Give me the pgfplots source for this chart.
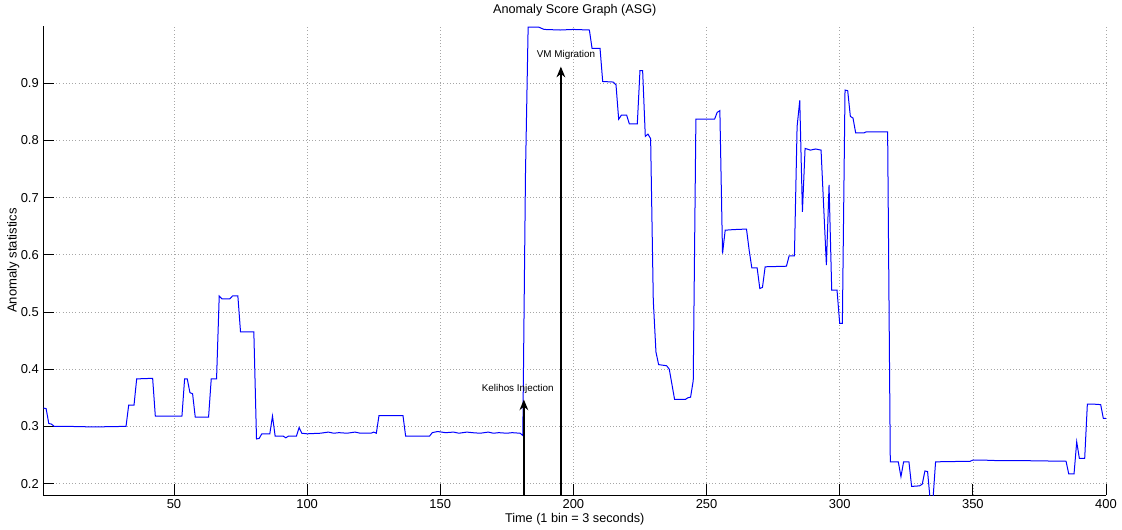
\documentclass[border=0pt]{standalone}
\usepackage{pgfplots}
\pgfplotsset{compat=1.18}
\usepackage{fontspec}
\setmainfont{Liberation Sans}
\usetikzlibrary{arrows.meta}
\begin{document}
\begin{tikzpicture}
\begin{axis}[
  scale only axis,
  width=796.9pt, height=351.75pt,
  xmin=1, xmax=400, ymin=0.18, ymax=1.0,
  axis x line*=bottom, axis y line*=left,
  axis line style={-, black, line width=0.6pt},
  tick align=inside,
  major tick length=8pt,
  tick style={black, line width=0.6pt},
  xtick={50,100,...,400},
  ytick={0.2,0.3,...,0.91},
  yticklabels={0.2,0.3,0.4,0.5,0.6,0.7,0.8,0.9},
  grid=major,
  major grid style={dotted, gray!70, line width=0.5pt},
  /pgf/number format/assume math mode=true,
  ticklabel style={font=\fontsize{9.7pt}{11pt}\selectfont},
  xlabel={Time (1 bin = 3 seconds)},
  ylabel={Anomaly statistics},
  xlabel style={at={(axis description cs:0.5,-0.0522)}, anchor=center, font=\fontsize{9.5pt}{11pt}\selectfont},
  ylabel style={at={(axis description cs:-0.0284,0.5)}, anchor=center, rotate=0, font=\fontsize{9.8pt}{11pt}\selectfont},
  clip=true,
]
\addplot[color={rgb,255:red,0;green,0;blue,255}, line width=0.75pt] coordinates {
(1,0.332) (2,0.331) (3,0.305) (4,0.304) (5,0.300) (10,0.300) (20,0.299) (32,0.300)
(33,0.337) (35,0.337) (36,0.383) (42,0.384) (43,0.318) (53,0.318)
(54,0.383) (55,0.383) (56,0.359) (57,0.357) (58,0.316) (63,0.316)
(64,0.383) (66,0.383) (67,0.528) (68,0.523) (71,0.523) (72,0.528) (74,0.528)
(75,0.465) (80,0.465) (81,0.278) (82,0.279) (83,0.287) (86,0.287) (87,0.318)
(88,0.283) (91,0.283) (92,0.280) (93,0.283) (96,0.283) (97,0.298) (98,0.288)
(100,0.287) (105,0.288) (108,0.290) (110,0.288) (112,0.289) (115,0.288) (118,0.290)
(120,0.288) (124,0.288) (125,0.290) (126,0.288)
(127,0.319) (136,0.319) (137,0.283) (146,0.283)
(147,0.289) (149,0.291) (152,0.289) (155,0.290) (157,0.288) (160,0.290) (162,0.289)
(165,0.288) (168,0.290) (170,0.288) (172,0.289) (175,0.288) (177,0.289) (180,0.288)
(181,0.284) (182,0.74) (183,0.998) (187,0.998) (189,0.994) (195,0.993) (200,0.994)
(206,0.993) (207,0.961) (210,0.961) (211,0.903) (215,0.902) (216,0.897) (217,0.837)
(218,0.844) (220,0.844) (221,0.829) (224,0.829) (225,0.922) (226,0.922) (227,0.807)
(228,0.811) (229,0.803) (230,0.52) (231,0.43) (232,0.408) (235,0.406) (236,0.400)
(238,0.347) (242,0.347) (243,0.350) (244,0.351) (245,0.38) (246,0.837) (253,0.837)
(254,0.849) (255,0.852) (256,0.602) (257,0.643) (260,0.644) (265,0.645) (266,0.608)
(267,0.577) (269,0.577) (270,0.541) (271,0.543) (272,0.579) (280,0.580) (281,0.598)
(283,0.598) (284,0.824) (285,0.870) (286,0.675) (287,0.786) (289,0.783) (291,0.785)
(293,0.783) (295,0.582) (296,0.722) (297,0.538) (299,0.538) (300,0.480) (301,0.480)
(302,0.888) (303,0.887) (304,0.842) (305,0.839) (306,0.813) (309,0.813) (310,0.815)
(318,0.815) (319,0.238) (322,0.238) (323,0.212) (324,0.238) (326,0.238) (327,0.195)
(330,0.196) (331,0.199) (332,0.222) (333,0.221) (334,0.17) (335,0.17) (336,0.238)
(349,0.239) (350,0.241) (354,0.241) (360,0.240) (370,0.240) (385,0.239) (386,0.217)
(388,0.217) (389,0.273) (390,0.244) (392,0.244) (393,0.339) (395,0.339) (398,0.338)
(399,0.314) (400,0.314)
};
\draw[-{Stealth[length=8pt,width=6.5pt]}, line width=1.5pt] (axis cs:181.4,0.18) -- (axis cs:181.4,0.347);
\draw[-{Stealth[length=8pt,width=6.5pt]}, line width=1.5pt] (axis cs:195.3,0.18) -- (axis cs:195.3,0.929);
\node[font=\fontsize{7.4pt}{9pt}\selectfont, inner sep=0pt] at (axis cs:179.1,0.366) {Kelihos Injection};
\node[font=\fontsize{7.4pt}{9pt}\selectfont, inner sep=0pt] at (axis cs:197.2,0.949) {VM Migration};
\end{axis}
\node[font=\fontsize{9.5pt}{11pt}\selectfont, inner sep=0pt] at (398.45pt,363.3pt) {Anomaly Score Graph (ASG)};
\pgfresetboundingbox
\path (-32.6pt,-25.5pt) rectangle (808.9pt,371.25pt);
\end{tikzpicture}
\end{document}
